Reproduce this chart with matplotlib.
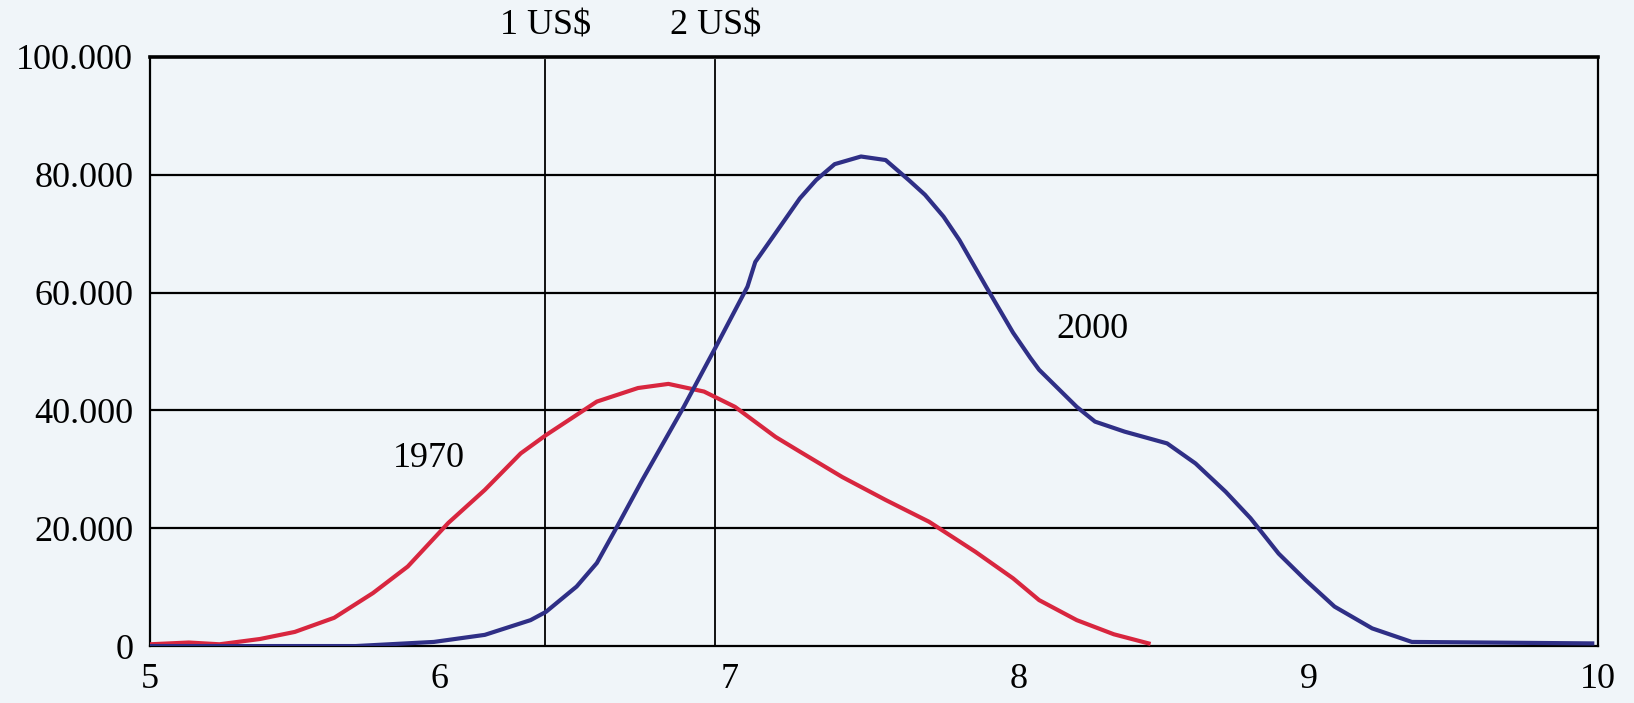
import numpy as np
import matplotlib.pyplot as plt
from matplotlib.ticker import FuncFormatter

# 1970 curve
x_1970 = [5.0, 5.134, 5.24, 5.38, 5.50, 5.636, 5.77, 5.89, 6.03, 6.156, 6.28, 6.367,
          6.543, 6.685, 6.79, 6.913, 7.02, 7.16, 7.244, 7.39, 7.54, 7.69, 7.85, 7.98,
          8.07, 8.20, 8.328, 8.448]
y_1970 = [300, 600, 300, 1200, 2400, 4800, 9000, 13500, 20900, 26500, 32700, 35800,
          41500, 43800, 44500, 43200, 40600, 35500, 33000, 28700, 24800, 21100, 16000, 11500,
          7800, 4400, 2000, 450]

# 2000 curve
x_2000 = [5.0, 5.71, 5.98, 6.156, 6.314, 6.367, 6.473, 6.543, 6.613, 6.70, 6.843, 6.954,
          7.063, 7.09, 7.16, 7.244, 7.30, 7.364, 7.455, 7.54, 7.62, 7.676, 7.74, 7.795,
          7.887, 7.98, 8.04, 8.07, 8.20, 8.263, 8.365, 8.512, 8.61, 8.714, 8.80, 8.897,
          8.99, 9.09, 9.22, 9.357, 9.98]
y_2000 = [0, 0, 700, 1900, 4400, 5800, 10100, 14100, 20300, 28200, 40600, 50800,
          61000, 65200, 70100, 76000, 79100, 81800, 83100, 82500, 79100, 76600, 72900, 68900,
          61000, 53200, 48900, 46900, 40600, 38100, 36400, 34400, 31000, 26200, 21700, 15700,
          11200, 6700, 3000, 700, 450]

poverty_x = [6.365, 6.952]
poverty_labels = ['1 US$', '2 US$']

bg = '#f0f5f9'
red = '#d8263f'
blue = '#2f2f86'
fs = 26

plt.rcParams['font.family'] = 'Liberation Serif'

fig = plt.figure(figsize=(16.34, 7.03), dpi=100, facecolor=bg)
ax = fig.add_axes([0.0918, 0.081, 0.8862, 0.838])
ax.set_facecolor(bg)

ax.set_xlim(5, 10)
ax.set_ylim(0, 100000)
ax.set_xticks([5, 6, 7, 8, 9, 10])
ax.set_yticks(np.arange(0, 100001, 20000))
ax.yaxis.set_major_formatter(FuncFormatter(lambda v, p: f'{int(v):,}'.replace(',', '.')))
ax.tick_params(length=0, labelsize=fs, colors='black')
ax.tick_params(axis='y', pad=12)
ax.tick_params(axis='x', pad=12)

for yv in [20000, 40000, 60000, 80000]:
    ax.axhline(yv, color='black', linewidth=1.6, zorder=1)
for xv, lab in zip(poverty_x, poverty_labels):
    ax.axvline(xv, ymax=0.995, color='black', linewidth=1.3, zorder=1)
    ax.text(xv, 1.052, lab, transform=ax.get_xaxis_transform(), ha='center', va='center',
            fontsize=fs)

ax.plot(x_1970, y_1970, color=red, linewidth=3.0, zorder=3)
ax.plot(x_2000, y_2000, color=blue, linewidth=3.0, zorder=3)

ax.text(5.963, 31900, '1970', fontsize=fs, ha='center', va='center')
ax.text(8.253, 53700, '2000', fontsize=fs, ha='center', va='center')

for side in ['left', 'bottom', 'right']:
    ax.spines[side].set_linewidth(1.6)
ax.spines['top'].set_linewidth(2.6)
for s in ax.spines.values():
    s.set_color('black')

fig.savefig('out.png', dpi=100, facecolor=bg)
